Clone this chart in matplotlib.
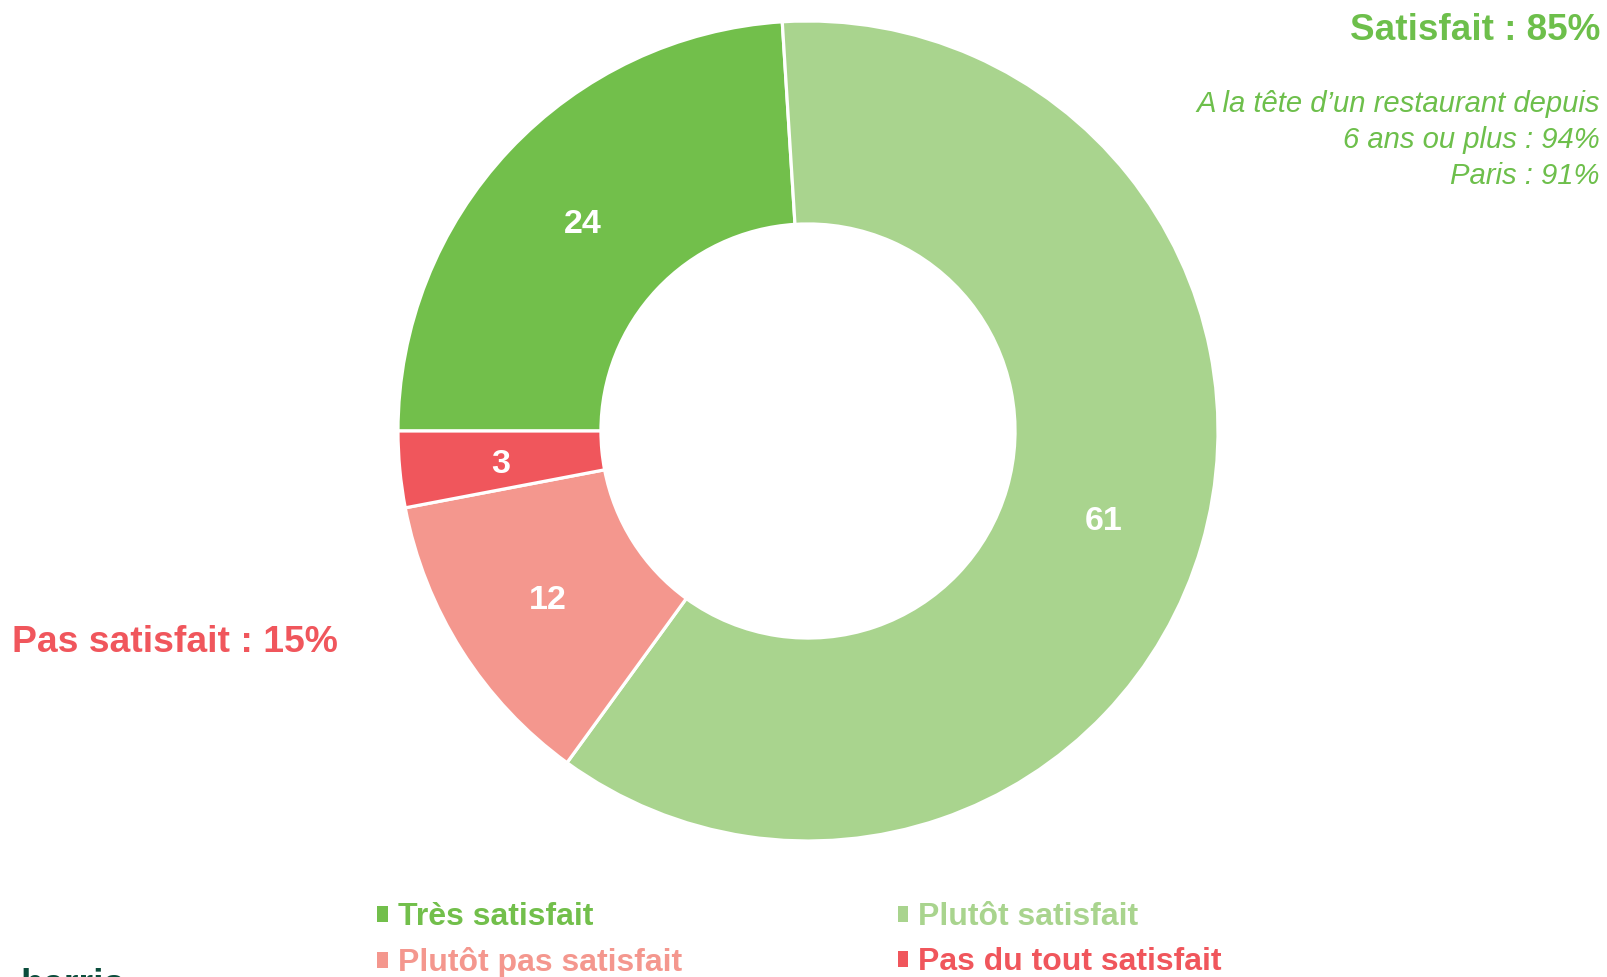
import matplotlib.pyplot as plt

plt.rcParams['font.family'] = ['Liberation Sans', 'DejaVu Sans']

# Data
categories = ['Très satisfait', 'Plutôt satisfait', 'Plutôt pas satisfait', 'Pas du tout satisfait']
values = [24, 61, 12, 3]
colors = ['#72BF4B', '#A9D48E', '#F4978E', '#F0565C']

satisfied_title = 'Satisfait : 85%'
satisfied_notes = 'A la tête d\u2019un restaurant depuis\n6 ans ou plus : 94%\nParis : 91%'
unsatisfied_title = 'Pas satisfait : 15%'

green_text = '#6DBF4B'
red_text = '#F0565C'

W, H = 1608, 977
fig = plt.figure(figsize=(W / 100, H / 100), dpi=100)

# donut axes: centre (808, 431) px, radius 410 px
cx, cy, r = 808, 431, 410
ax = fig.add_axes([(cx - r) / W, (H - cy - r) / H, 2 * r / W, 2 * r / H])
wedges, texts, autotexts = ax.pie(
    values, colors=colors, startangle=180, counterclock=False, radius=1,
    wedgeprops=dict(width=0.495, edgecolor='white', linewidth=2.3),
    autopct=lambda p: f'{round(p)}', pctdistance=0.752,
    textprops=dict(color='white', fontsize=24.5, fontweight='bold'))
for t in autotexts:
    x, y = t.get_position()
    t.set_position((x, y - 0.01))
ax.set_xlim(-1, 1)
ax.set_ylim(-1, 1)
ax.set_aspect('equal')
ax.axis('off')

# Annotations
fig.text(1600 / W, 1 - 31 / H, satisfied_title, ha='right', va='center',
         fontsize=26.6, fontweight='bold', color=green_text)
fig.text(1600 / W, 1 - 140 / H, satisfied_notes, ha='right', va='center',
         fontsize=21.1, fontstyle='italic', color=green_text, linespacing=1.38)
fig.text(12 / W, 1 - 642 / H, unsatisfied_title, ha='left', va='center',
         fontsize=26.8, fontweight='bold', color=red_text)

# Legend: rows Très / Plutôt satisfait, then Plutôt pas / Pas du tout
order = [0, 2, 1, 3]
leg = fig.legend([wedges[i] for i in order], [categories[i] for i in order],
                 ncol=2, loc='upper left', bbox_to_anchor=(377 / W, 1 - 902 / H),
                 frameon=False, handlelength=0.33, handleheight=0.4,
                 handletextpad=0.32, columnspacing=6.75, labelspacing=0.48,
                 borderpad=0, borderaxespad=0,
                 prop=dict(weight='bold', size=23))
for h in leg.legend_handles:
    h.set_edgecolor('none')
for t, i in zip(leg.get_texts(), order):
    t.set_color(colors[i])

# logo, cut off at the bottom edge as in the source slide
fig.text(20 / W, -19 / H, 'harris', ha='left', va='baseline',
         fontsize=27, fontweight='bold', color='#0B4D3C')

fig.savefig('out.png', dpi=100)
